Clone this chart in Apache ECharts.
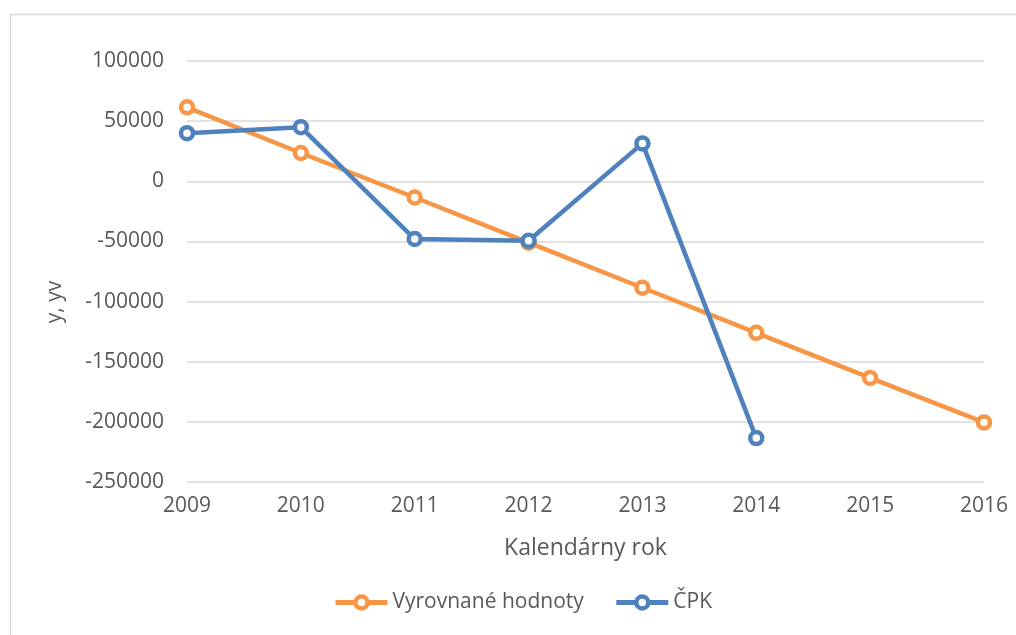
<!DOCTYPE html>
<html>
<head>
<meta charset="utf-8">
<script src="https://cdn.jsdelivr.net/npm/echarts@6/dist/echarts.min.js"></script>
<style>
  html, body { margin: 0; padding: 0; background: #fff; }
  #chart1 { width: 1016px; height: 635px; }
</style>
</head>
<body>
<div id="chart1"></div>
<script>
// 初始化echarts实例
let chart1 = echarts.init(document.getElementById("chart1"));

// 数据
let years = ['2009', '2010', '2011', '2012', '2013', '2014', '2015', '2016'];
let vyrovnane = [61500, 23500, -13500, -51000, -88500, -126000, -163500, -200500];
let cpk = [40000, 45000, -48000, -49500, 31500, -213500, null, null];

let textColor = '#595959';
let font = '"Open Sans", sans-serif';

let option = {
    backgroundColor: '#fff',
    textStyle: { fontFamily: font, color: textColor },
    graphic: [{
        type: 'rect',
        left: 8,
        top: 12,
        shape: { width: 1100, height: 700 },
        style: { fill: 'none', stroke: '#d9d9d9', lineWidth: 1.5 },
        silent: true
    }, {
        // y 轴标题
        type: 'text',
        x: 55,
        y: 302,
        rotation: Math.PI / 2,
        style: {
            text: 'y, yv',
            fill: textColor,
            font: '21px "Open Sans", sans-serif',
            align: 'center',
            verticalAlign: 'middle'
        },
        silent: true
    }],
    grid: {
        left: 187,
        right: 32,
        top: 61,
        bottom: 153
    },
    legend: {
        bottom: 17,
        left: 328,
        itemWidth: 52,
        itemHeight: 15,
        itemGap: 30,
        lineStyle: { width: 5 },
        itemStyle: { borderWidth: 4.5 },
        textStyle: { fontSize: 21, color: textColor, fontFamily: font },
        data: ['Vyrovnané hodnoty', 'ČPK']
    },
    xAxis: {
        type: 'category',
        data: years,
        boundaryGap: false,
        name: 'Kalendárny rok',
        nameLocation: 'middle',
        nameGap: 55,
        nameTextStyle: { fontSize: 23, color: textColor, fontFamily: font },
        axisLine: { show: false },
        axisTick: { show: false },
        axisLabel: { fontSize: 21, color: textColor, margin: 14 }
    },
    yAxis: {
        type: 'value',
        min: -250000,
        max: 100000,
        interval: 50000,
        axisLine: { show: false },
        axisTick: { show: false },
        axisLabel: {
            fontSize: 21,
            color: textColor,
            margin: 23,
            formatter: function (v) { return String(v); }
        },
        splitLine: { lineStyle: { color: '#d9d9d9', width: 1.5 } }
    },
    series: [{
        name: 'Vyrovnané hodnoty',
        type: 'line',
        data: vyrovnane,
        symbol: 'circle',
        symbolSize: 12,
        color: '#F79646',
        lineStyle: { width: 4.5, color: '#F79646' },
        itemStyle: { color: '#fff', borderColor: '#F79646', borderWidth: 4.5 },
        z: 2
    }, {
        name: 'ČPK',
        type: 'line',
        data: cpk,
        symbol: 'circle',
        symbolSize: 12,
        color: '#4F81BD',
        lineStyle: { width: 4.5, color: '#4F81BD' },
        itemStyle: { color: '#fff', borderColor: '#4F81BD', borderWidth: 4.5 },
        z: 3
    }]
};
window.onresize = chart1.resize;
chart1.setOption(option);
</script>
</body>
</html>
